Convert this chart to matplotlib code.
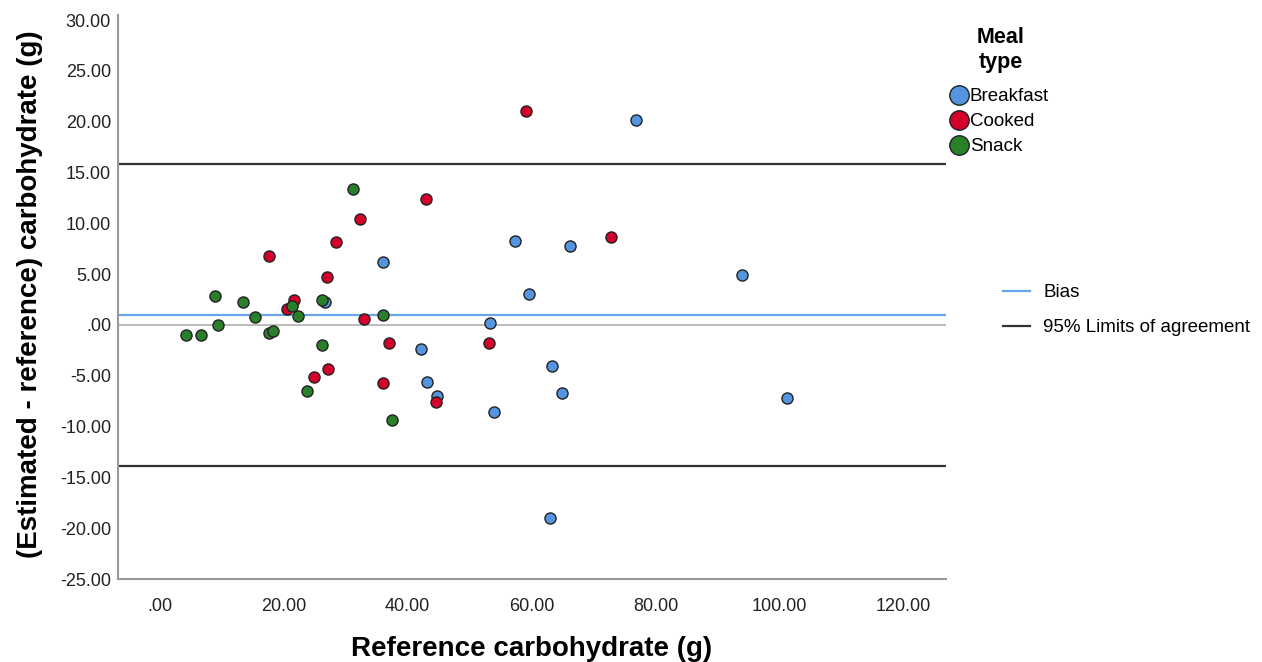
import matplotlib
matplotlib.use("Agg")
import matplotlib.pyplot as plt
from matplotlib.lines import Line2D

plt.rcParams['font.family'] = ['Liberation Sans', 'DejaVu Sans']

# reference carbohydrate (g) and difference (estimated - reference) per meal type
breakfast_x = [76.8, 36.1, 26.7, 42.1, 43.1, 44.8, 57.4, 66.2, 59.6, 53.3, 63.3, 64.9, 54.0, 93.9, 101.2, 62.9]
breakfast_y = [20.2, 6.2, 2.3, -2.36, -5.58, -7.04, 8.3, 7.75, 3.05, 0.17, -4.0, -6.7, -8.53, 4.9, -7.2, -19.0]

cooked_x = [59.1, 17.6, 21.6, 20.5, 27.0, 28.4, 32.3, 42.9, 33.0, 37.0, 27.15, 24.9, 36.0, 44.6, 53.2, 72.8]
cooked_y = [21.06, 6.8, 2.5, 1.6, 4.75, 8.2, 10.4, 12.43, 0.59, -1.74, -4.33, -5.15, -5.68, -7.6, -1.8, 8.66]

snack_x = [31.2, 8.9, 13.5, 15.3, 9.35, 4.15, 6.7, 17.6, 18.2, 21.3, 22.3, 26.1, 26.2, 23.7, 36.1, 37.5]
snack_y = [13.36, 2.88, 2.3, 0.76, -0.03, -1.01, -1.01, -0.76, -0.62, 1.9, 0.86, 2.5, -1.94, -6.47, 1.01, -9.35]

bias = 0.99
loa_upper = 15.88
loa_lower = -13.88

xticks = [0, 20, 40, 60, 80, 100, 120]
yticks = [30, 25, 20, 15, 10, 5, 0, -5, -10, -15, -20, -25]

c_blue = '#5494e0'
c_red = '#d4002b'
c_green = '#2a802a'

fig = plt.figure(figsize=(12.62, 6.62), dpi=100)
ax = fig.add_axes([118 / 1262, 1 - 579 / 662, (946 - 118) / 1262, (579 - 15) / 662])

ax.axhline(0, color='#b0b0b0', lw=1.2, zorder=1)
ax.axhline(bias, color='#6aa4e8', lw=1.6, zorder=1)
ax.axhline(loa_upper, color='#333333', lw=1.6, zorder=1)
ax.axhline(loa_lower, color='#333333', lw=1.6, zorder=1)

ms = 64
for xs, ys, col in [(breakfast_x, breakfast_y, c_blue),
                    (cooked_x, cooked_y, c_red),
                    (snack_x, snack_y, c_green)]:
    ax.scatter(xs, ys, s=ms, color=col, edgecolor='#222222', linewidth=1.0, zorder=3)

ax.set_xlim(-6.75, 126.9)
ax.set_ylim(-25, 30.5)
ax.set_xticks(xticks)
ax.set_xticklabels(['.00' if t == 0 else '%.2f' % t for t in xticks])
ax.set_yticks(yticks)
ax.set_yticklabels(['.00' if t == 0 else '%.2f' % t for t in yticks])
ax.tick_params(axis='x', length=0, labelsize=13, colors='#222222', pad=14)
ax.tick_params(axis='y', length=0, labelsize=13, colors='#222222', pad=5)

for s in ['top', 'right']:
    ax.spines[s].set_visible(False)
for s in ['left', 'bottom']:
    ax.spines[s].set_color('#999999')
    ax.spines[s].set_linewidth(1.5)

ax.set_xlabel('Reference carbohydrate (g)', fontsize=20, fontweight='bold', labelpad=15)
ax.set_ylabel('(Estimated - reference) carbohydrate (g)', fontsize=20, fontweight='bold')
ax.yaxis.set_label_coords(-0.091, 0.505)

# meal type legend
fig.text(1001 / 1262, 1 - 50 / 662, 'Meal\ntype', fontsize=15.5, fontweight='bold',
         ha='center', va='center', linespacing=1.2)
handles = [Line2D([], [], ls='none', marker='o', markersize=14, markerfacecolor=c,
                  markeredgecolor='#222222', markeredgewidth=1.0) for c in [c_blue, c_red, c_green]]
fig.legend(handles, ['Breakfast', 'Cooked', 'Snack'], loc='upper left',
           bbox_to_anchor=(950 / 1262, 1 - 88 / 662), frameon=False, fontsize=13.5,
           handlelength=1.0, handletextpad=0.05, labelspacing=0.42, borderpad=0, borderaxespad=0)

# line legend
line_handles = [Line2D([], [], color='#6aa4e8', lw=1.6), Line2D([], [], color='#333333', lw=1.6)]
fig.legend(line_handles, ['Bias', '95% Limits of agreement'], loc='upper left',
           bbox_to_anchor=(1003 / 1262, 1 - 284 / 662), frameon=False, fontsize=13.5,
           handlelength=1.45, handletextpad=0.7, labelspacing=0.95, borderpad=0, borderaxespad=0)

fig.savefig('out.png', dpi=100)
